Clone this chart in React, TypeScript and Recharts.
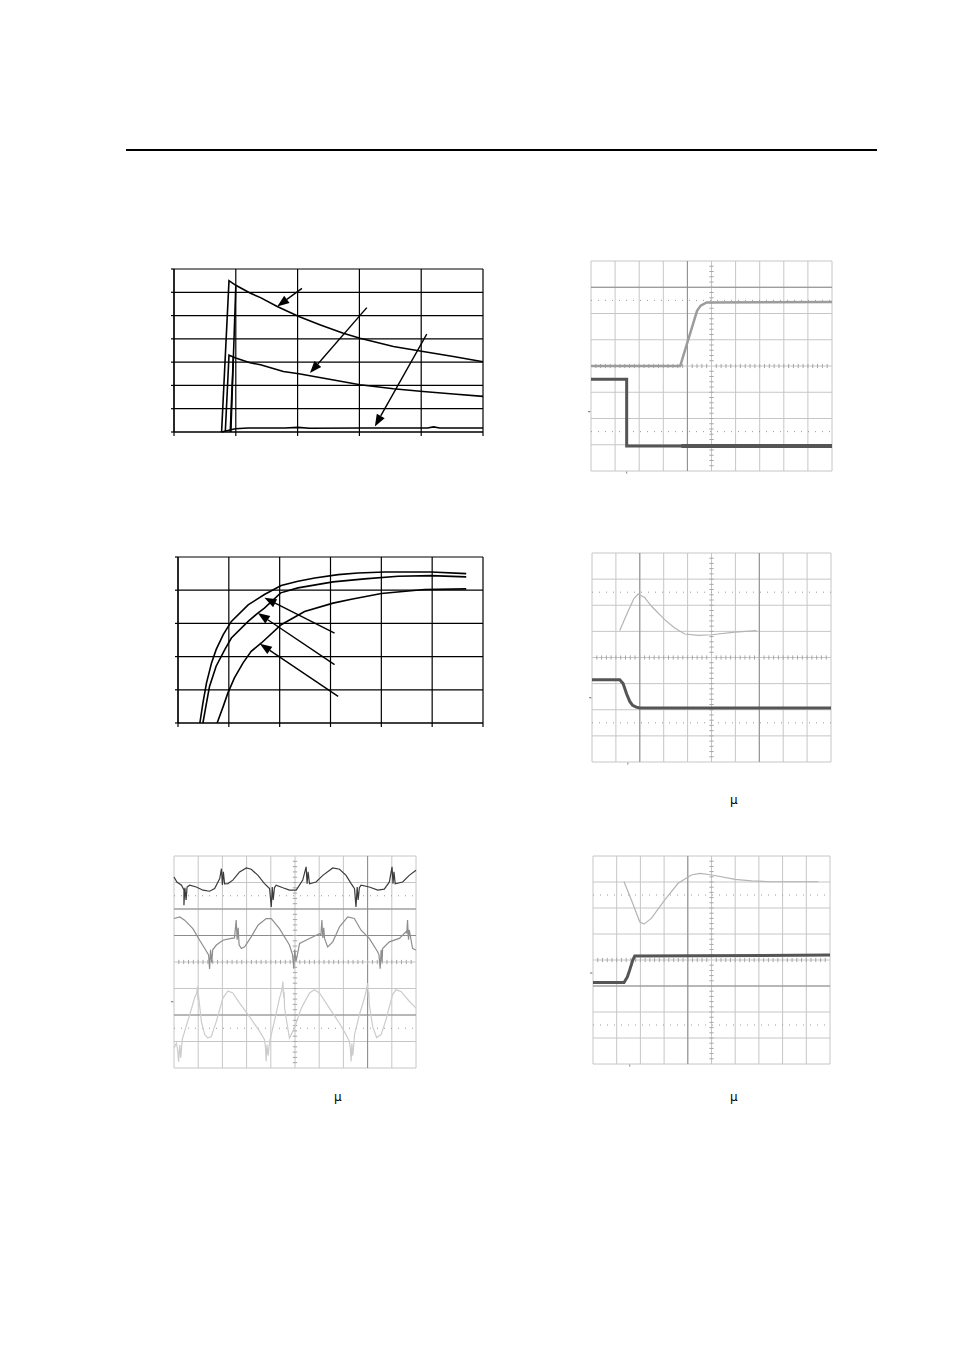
import React from 'react'
import { LineChart, Line, XAxis, YAxis, CartesianGrid, ReferenceLine } from 'recharts'

type Pt = { x: number; y: number }
const P = (a: number[][]): Pt[] => a.map(([x, y]) => ({ x, y }))

// ---- top-left: three decaying curves (x in columns 0..5, y in rows 0..7)
const decayA = P([[0.77, 0], [0.89, 6.5], [1.0, 6.3], [1.23, 5.97], [1.4, 5.77], [1.67, 5.39], [2.02, 4.96], [2.37, 4.6], [2.74, 4.24], [3.01, 4.03], [3.55, 3.67], [4.03, 3.46], [4.52, 3.24], [5.0, 3.02]])
const decayA2 = P([[0.92, 0], [1.0, 6.25]])
const decayB = P([[0.83, 0], [0.89, 3.3], [0.96, 3.22], [1.01, 3.17], [1.23, 2.97], [1.4, 2.89], [1.77, 2.6], [2.02, 2.5], [2.47, 2.29], [3.01, 2.03], [3.55, 1.86], [4.03, 1.74], [4.52, 1.63], [5.0, 1.53]])
const decayB2 = P([[0.91, 0], [0.96, 3.22]])
const decayC = P([[0.77, 0], [0.99, 0.14], [1.2, 0.17], [1.8, 0.17], [2.0, 0.2], [2.2, 0.16], [3.0, 0.17], [4.1, 0.17], [4.2, 0.22], [4.3, 0.17], [5.0, 0.17]])
const decayArrows = [
  { from: [2.07, 6.17], to: [1.67, 5.39] },
  { from: [3.12, 5.34], to: [2.2, 2.53] },
  { from: [4.09, 4.2], to: [3.25, 0.24] },
]

// ---- middle-left: three rising curves (x in columns 0..6, y in rows 0..5)
const riseC1 = P([[0.43, 0], [0.49, 0.6], [0.56, 1.2], [0.66, 1.81], [0.75, 2.21], [0.89, 2.66], [1.05, 3.06], [1.38, 3.56], [1.7, 3.87], [2.03, 4.14], [2.36, 4.27], [2.69, 4.37], [3.15, 4.47], [3.54, 4.52], [4.07, 4.55], [4.98, 4.55], [5.67, 4.5]])
const riseC2 = P([[0.49, 0], [0.56, 0.6], [0.62, 1.1], [0.75, 1.71], [0.92, 2.21], [1.05, 2.56], [1.38, 3.06], [1.57, 3.31], [1.7, 3.46], [2.02, 3.92], [2.36, 4.07], [3.05, 4.25], [3.67, 4.34], [4.33, 4.42], [4.98, 4.44], [5.67, 4.4]])
const riseC3 = P([[0.77, 0], [0.89, 0.5], [0.98, 0.9], [1.11, 1.36], [1.28, 1.81], [1.44, 2.16], [1.64, 2.41], [2.03, 2.96], [2.49, 3.36], [3.05, 3.61], [3.41, 3.73], [4.0, 3.9], [4.85, 4.02], [5.67, 4.04]])
const riseArrows = [
  { from: [3.08, 2.71], to: [1.7, 3.77] },
  { from: [3.08, 1.76], to: [1.57, 3.31] },
  { from: [3.15, 0.8], to: [1.61, 2.39] },
]

// ---- scope traces (x in divisions 0..10, y in divisions 0..8)
const s1Up = P([[0, 4.0], [3.7, 4.0], [4.4, 6.1], [4.55, 6.3], [4.8, 6.42], [10, 6.44]])
const s1Down = P([[0, 3.5], [1.48, 3.5], [1.48, 0.95], [10, 0.95]])
const s1DownNoise = P([[3.75, 0.95], [10, 0.95]])

const s2Ring = P([[1.16, 5.03], [1.51, 5.77], [1.75, 6.25], [1.93, 6.43], [2.2, 6.3], [2.49, 5.96], [3.04, 5.45], [3.46, 5.13], [3.88, 4.9], [4.44, 4.85], [5.0, 4.87], [5.98, 4.97], [6.89, 5.03]])
const s2Fall = P([[0, 3.15], [1.16, 3.15], [1.3, 3.0], [1.45, 2.6], [1.58, 2.32], [1.7, 2.17], [1.85, 2.1], [2.0, 2.07], [10, 2.07]])

const s3Top = P([[0, 7.21], [0.12, 7.02], [0.31, 6.9], [0.41, 6.72], [0.41, 6.14], [0.45, 6.8], [0.5, 6.34], [0.54, 6.83], [0.65, 6.9], [0.92, 6.83], [1.2, 6.71], [1.47, 6.67], [1.68, 6.77], [1.89, 7.15], [1.96, 7.52], [2.0, 6.91], [2.04, 7.4], [2.09, 6.95], [2.23, 6.96], [2.43, 7.09], [2.71, 7.4], [2.99, 7.55], [3.19, 7.5], [3.47, 7.27], [3.74, 6.96], [3.95, 6.77], [4.02, 6.08], [4.06, 6.83], [4.1, 6.34], [4.15, 6.8], [4.22, 6.9], [4.5, 6.8], [4.77, 6.71], [5.05, 6.71], [5.32, 7.09], [5.46, 7.59], [5.5, 6.95], [5.54, 7.4], [5.6, 6.95], [5.87, 7.02], [6.15, 7.27], [6.56, 7.55], [6.84, 7.5], [7.11, 7.27], [7.32, 6.96], [7.46, 6.77], [7.52, 6.08], [7.57, 6.83], [7.61, 6.34], [7.66, 6.8], [7.73, 6.9], [8.07, 6.83], [8.42, 6.71], [8.69, 6.75], [8.9, 7.02], [9.01, 7.59], [9.05, 6.95], [9.09, 7.4], [9.14, 6.95], [9.45, 7.02], [9.72, 7.27], [10, 7.46]])
const s3Mid = P([[0, 5.64], [0.24, 5.7], [0.44, 5.58], [0.78, 5.26], [1.06, 4.82], [1.27, 4.51], [1.43, 4.27], [1.47, 3.74], [1.51, 4.46], [1.56, 3.97], [1.6, 4.46], [1.75, 4.64], [2.02, 4.82], [2.37, 4.89], [2.5, 4.91], [2.57, 5.58], [2.61, 4.84], [2.65, 5.29], [2.69, 4.65], [2.78, 4.51], [2.92, 4.57], [3.19, 4.95], [3.47, 5.39], [3.81, 5.64], [4.02, 5.64], [4.36, 5.26], [4.77, 4.64], [4.9, 4.27], [4.95, 3.75], [4.99, 4.46], [5.04, 4.01], [5.19, 4.7], [5.6, 4.89], [6.01, 5.07], [6.07, 5.02], [6.11, 5.58], [6.15, 4.91], [6.19, 5.29], [6.22, 4.89], [6.35, 4.57], [6.56, 4.76], [6.84, 5.33], [7.18, 5.7], [7.45, 5.64], [7.73, 5.2], [8.07, 4.89], [8.42, 4.38], [8.47, 4.27], [8.52, 3.75], [8.56, 4.46], [8.6, 4.01], [8.62, 4.51], [8.9, 4.76], [9.31, 4.89], [9.59, 5.14], [9.62, 5.1], [9.65, 5.58], [9.69, 4.84], [9.72, 5.21], [9.86, 4.51], [10, 4.45]])
const s3Low = P([[0, 0.75], [0.1, 0.94], [0.15, 0.69], [0.19, 0.24], [0.24, 0.88], [0.28, 0.39], [0.34, 1.07], [0.44, 1.38], [0.65, 2.01], [0.85, 2.64], [0.94, 2.84], [0.97, 3.08], [0.99, 2.57], [1.01, 2.76], [1.13, 1.76], [1.27, 1.26], [1.4, 1.13], [1.54, 1.19], [1.75, 1.76], [2.02, 2.64], [2.23, 2.91], [2.43, 2.83], [2.71, 2.45], [3.12, 1.94], [3.54, 1.38], [3.74, 1.07], [3.78, 0.77], [3.81, 0.25], [3.84, 0.88], [3.89, 0.46], [3.95, 1.0], [4.15, 1.76], [4.36, 2.64], [4.46, 2.95], [4.5, 3.26], [4.53, 2.65], [4.55, 2.88], [4.57, 2.26], [4.7, 1.51], [4.77, 1.13], [4.98, 1.51], [5.26, 2.26], [5.6, 2.83], [5.8, 2.95], [6.01, 2.83], [6.42, 2.26], [6.83, 1.7], [7.11, 1.26], [7.25, 1.0], [7.29, 0.69], [7.32, 0.25], [7.35, 0.92], [7.39, 0.46], [7.46, 1.26], [7.66, 2.01], [7.87, 2.64], [7.95, 2.95], [8.0, 3.2], [8.03, 2.65], [8.05, 2.88], [8.07, 2.39], [8.21, 1.57], [8.37, 1.15], [8.56, 1.26], [8.76, 1.82], [9.03, 2.76], [9.17, 2.95], [9.38, 2.89], [9.73, 2.51], [10, 2.26]])

const s4Ring = P([[1.31, 7.01], [1.62, 6.31], [1.97, 5.47], [2.15, 5.38], [2.46, 5.6], [3.03, 6.31], [3.59, 6.95], [4.15, 7.27], [4.51, 7.33], [5.03, 7.27], [5.99, 7.1], [6.69, 7.04], [7.54, 7.01], [9.51, 7.01]])
const s4Rise = P([[0, 3.13], [1.31, 3.13], [1.45, 3.35], [1.55, 3.62], [1.68, 4.0], [1.76, 4.15], [10, 4.19]])

const COLS5 = [0, 1, 2, 3, 4, 5]
const ROWS7 = [0, 1, 2, 3, 4, 5, 6, 7]
const COLS6 = [0, 1, 2, 3, 4, 5, 6]
const ROWS5 = [0, 1, 2, 3, 4, 5]
const DIV_X = [0, 1, 2, 3, 4, 5, 6, 7, 8, 9, 10]
const DIV_Y = [0, 1, 2, 3, 4, 5, 6, 7, 8]
const MINOR_X = Array.from({ length: 49 }, (_, i) => (i + 1) * 0.2).filter(v => Math.abs(v - 5) > 0.01)
const MINOR_Y = Array.from({ length: 39 }, (_, i) => (i + 1) * 0.2).filter(v => Math.abs(v - 4) > 0.01)

const Arrow = (p: any) => {
  const { x1, y1, x2, y2 } = p
  const a = Math.atan2(y2 - y1, x2 - x1)
  const L = 12, W = 4.5
  const bx = x2 - L * Math.cos(a)
  const by = y2 - L * Math.sin(a)
  const pts = `${x2},${y2} ${bx + W * Math.sin(a)},${by - W * Math.cos(a)} ${bx - W * Math.sin(a)},${by + W * Math.cos(a)}`
  return (
    <g>
      <line x1={x1} y1={y1} x2={bx} y2={by} stroke="#000" strokeWidth={1.4} />
      <polygon points={pts} fill="#000" />
    </g>
  )
}

// tick labels are blank in the original, only the tick marks stay
const NoLabel = () => <g />

type Trace = { data: Pt[]; color: string; width: number }

function XYPlot({ left, top, w, h, cols, rows, curves, arrows }: {
  left: number; top: number; w: number; h: number; cols: number[]; rows: number[]
  curves: Pt[][]; arrows: { from: number[]; to: number[] }[]
}) {
  return (
    <div style={{ position: 'absolute', left: left - 4, top: top - 1 }}>
      <LineChart width={w + 5} height={h + 5} margin={{ top: 1, right: 1, bottom: 0, left: 0 }}>
        <XAxis type="number" dataKey="x" domain={[0, cols[cols.length - 1]]} ticks={cols} interval={0}
          height={4} tick={NoLabel} tickSize={4} tickLine={{ stroke: '#000', strokeWidth: 1.2 }}
          axisLine={{ stroke: '#000', strokeWidth: 1.2 }} />
        <YAxis type="number" dataKey="y" domain={[0, rows[rows.length - 1]]} ticks={rows} interval={0}
          width={4} tick={NoLabel} tickSize={3} tickLine={{ stroke: '#000', strokeWidth: 1.2 }}
          axisLine={{ stroke: '#000', strokeWidth: 1.2 }} />
        <CartesianGrid stroke="#000" strokeWidth={1.2} />
        {curves.map((d, i) => (
          <Line key={i} data={d} dataKey="y" type="linear" stroke="#000" strokeWidth={1.6}
            dot={false} isAnimationActive={false} />
        ))}
        {arrows.map((a, i) => (
          <ReferenceLine key={'a' + i} segment={[{ x: a.from[0], y: a.from[1] }, { x: a.to[0], y: a.to[1] }]}
            shape={Arrow} ifOverflow="visible" />
        ))}
      </LineChart>
    </div>
  )
}

function Scope({ left, top, w, h, traces, darkX = [], darkY = [], gnd, trig }: {
  left: number; top: number; w: number; h: number; traces: Trace[]; darkX?: number[]; darkY?: number[]
  gnd?: number; trig?: number
}) {
  return (
    <div style={{ position: 'absolute', left: left - 4, top: top - 1 }}>
      <LineChart width={w + 5} height={h + 4} margin={{ top: 1, right: 1, bottom: 3, left: 4 }}>
        <XAxis type="number" dataKey="x" domain={[0, 10]} ticks={DIV_X} interval={0} hide />
        <YAxis type="number" dataKey="y" domain={[0, 8]} ticks={DIV_Y} interval={0} hide />
        <CartesianGrid stroke="#c6c6c6" strokeWidth={1} />
        {darkX.map(v => <ReferenceLine key={'dx' + v} x={v} stroke="#8c8c8c" strokeWidth={1} />)}
        {darkY.map(v => <ReferenceLine key={'dy' + v} y={v} stroke="#8c8c8c" strokeWidth={1} />)}
        <ReferenceLine y={6.5} stroke="#9a9a9a" strokeDasharray="1 6" />
        <ReferenceLine y={1.5} stroke="#9a9a9a" strokeDasharray="1 6" />
        {MINOR_X.map(v => (
          <ReferenceLine key={'mx' + v} segment={[{ x: v, y: 3.92 }, { x: v, y: 4.08 }]} stroke="#a6a6a6" />
        ))}
        {MINOR_Y.map(v => (
          <ReferenceLine key={'my' + v} segment={[{ x: 4.91, y: v }, { x: 5.09, y: v }]} stroke="#a6a6a6" />
        ))}
        {gnd !== undefined && (
          <ReferenceLine segment={[{ x: -0.12, y: gnd }, { x: -0.03, y: gnd }]} stroke="#666" ifOverflow="visible" />
        )}
        {trig !== undefined && (
          <ReferenceLine segment={[{ x: trig, y: -0.1 }, { x: trig, y: -0.02 }]} stroke="#888" ifOverflow="visible" />
        )}
        {traces.map((t, i) => (
          <Line key={i} data={t.data} dataKey="y" type="linear" stroke={t.color} strokeWidth={t.width}
            dot={false} isAnimationActive={false} />
        ))}
      </LineChart>
    </div>
  )
}

const mu: React.CSSProperties = { position: 'absolute', fontFamily: '"DejaVu Sans", sans-serif', fontSize: 12, color: '#000', lineHeight: '14px' }

export default function App() {
  return (
    <div style={{ position: 'absolute', left: 0, top: 0, width: 954, height: 1350, background: '#fff' }}>
      <div style={{ position: 'absolute', left: 126, top: 149, width: 751, height: 2, background: '#000' }} />

      <XYPlot left={174} top={269} w={309} h={163} cols={COLS5} rows={ROWS7}
        curves={[decayA, decayA2, decayB, decayB2, decayC]} arrows={decayArrows} />

      <XYPlot left={178} top={557} w={305} h={166} cols={COLS6} rows={ROWS5}
        curves={[riseC1, riseC2, riseC3]} arrows={riseArrows} />

      <Scope left={591} top={261} w={241} h={210} darkX={[4]} darkY={[7]} gnd={2.26} trig={1.48}
        traces={[
          { data: s1Up, color: '#9c9c9c', width: 2.5 },
          { data: s1Down, color: '#555', width: 3 },
          { data: s1DownNoise, color: '#555', width: 4 },
        ]} />

      <Scope left={592} top={553} w={239} h={209} darkX={[2, 7]} gnd={2.46} trig={1.5}
        traces={[
          { data: s2Ring, color: '#b4b4b4', width: 1.2 },
          { data: s2Fall, color: '#555', width: 3 },
        ]} />

      <Scope left={174} top={856} w={242} h={212} darkY={[2, 5, 6]} darkX={[8]} gnd={2.5}
        traces={[
          { data: s3Low, color: '#cccccc', width: 1.2 },
          { data: s3Mid, color: '#8e8e8e', width: 1.2 },
          { data: s3Top, color: '#3c3c3c', width: 1.2 },
        ]} />

      <Scope left={593} top={856} w={237} h={208} darkX={[4]} darkY={[3]} gnd={3.5} trig={1.55}
        traces={[
          { data: s4Ring, color: '#b4b4b4', width: 1.2 },
          { data: s4Rise, color: '#555', width: 3 },
        ]} />

      <span style={{ ...mu, left: 730, top: 793 }}>μ</span>
      <span style={{ ...mu, left: 334, top: 1090 }}>μ</span>
      <span style={{ ...mu, left: 730, top: 1090 }}>μ</span>
    </div>
  )
}
